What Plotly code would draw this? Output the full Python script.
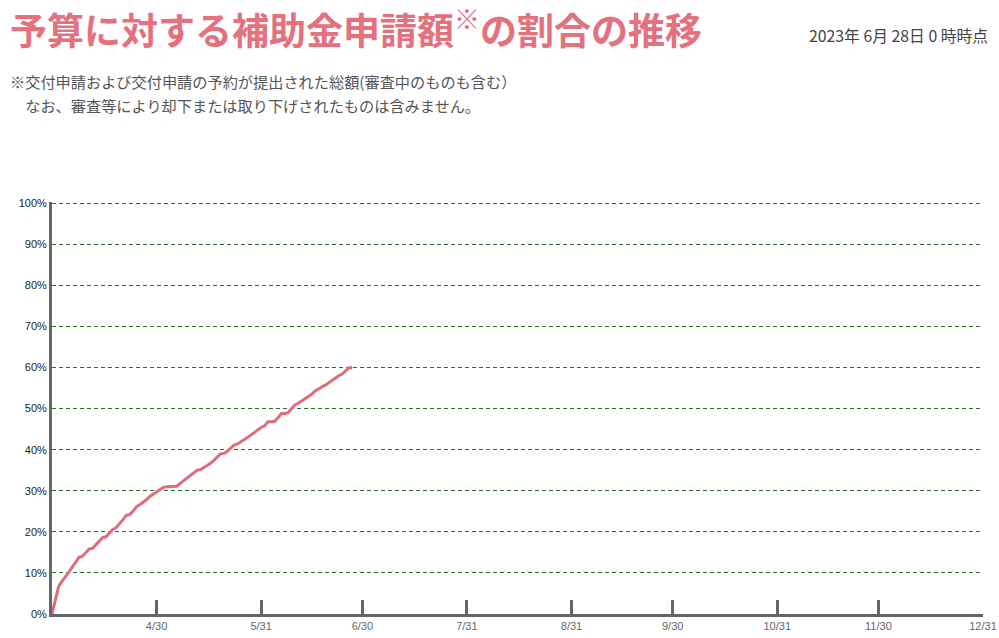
import pandas as pd
import plotly.graph_objects as go

# daily share of budget applied for (%), 3/30 .. 6/27
dates = pd.date_range("2023-03-30", "2023-06-27", freq="D")
ratio = [0, 3.4, 6.8, 8.0, 9.0, 10.2, 11.4, 12.6, 13.8, 14.0,
         14.8, 15.8, 16.0, 16.8, 17.6, 18.6, 18.8, 19.8, 20.6, 21.0,
         21.9, 22.9, 24.0, 24.2, 25.0, 26.1, 26.6, 27.1, 27.8, 28.6,
         29.2, 29.8, 30.3, 30.8, 31.0, 31.0, 31.0, 31.1, 31.8, 32.4,
         33.0, 33.6, 34.4, 35.0, 35.1, 35.6, 36.0, 36.7, 37.4, 38.3,
         39.0, 39.1, 39.6, 40.4, 41.1, 41.4, 41.9, 42.3, 43.0, 43.6,
         44.2, 45.0, 45.4, 45.8, 46.8, 46.8, 46.9, 47.8, 48.8, 48.8,
         49.0, 50.0, 50.9, 51.3, 51.8, 52.4, 52.9, 53.5, 54.3, 54.9,
         55.3, 55.7, 56.3, 56.9, 57.4, 58.0, 58.4, 59.2, 59.9, 60.0]

month_ends = ["2023-04-30", "2023-05-31", "2023-06-30", "2023-07-31", "2023-08-31",
              "2023-09-30", "2023-10-31", "2023-11-30", "2023-12-31"]
month_labels = ["4/30", "5/31", "6/30", "7/31", "8/31", "9/30", "10/31", "11/30", "12/31"]
pct_vals = list(range(0, 101, 10))
pct_labels = [str(v) + "%" for v in pct_vals]

title = "予算に対する補助金申請額<sup>※</sup>の割合の推移"
asof = "2023年 6月 28日 0 時時点"
note1 = "※交付申請および交付申請の予約が提出された総額(審査中のものも含む）"
note2 = "　なお、審査等により却下または取り下げされたものは含みません。"

W, H = 999, 638
L, R, T, B = 52, 16, 202, 24
jp = "Noto Sans CJK JP"


def px(x):
    return (x - L) / (W - L - R)


def py(y):
    return (H - B - y) / (H - T - B)


fig = go.Figure()
fig.add_trace(go.Scatter(x=dates, y=ratio, mode="lines",
                         line=dict(color="#e06d7b", width=3), hoverinfo="skip"))

fig.add_annotation(text=title, x=px(8), y=py(27), xref="paper", yref="paper",
                   xanchor="left", yanchor="middle", showarrow=False,
                   font=dict(family=jp, size=37, color="#e5707e", weight="bold"))
fig.add_annotation(text=asof, x=px(990), y=py(36), xref="paper", yref="paper",
                   xanchor="right", yanchor="middle", showarrow=False,
                   font=dict(family=jp, size=15.8, color="#444"))
fig.add_annotation(text=note1, x=px(8), y=py(81), xref="paper", yref="paper",
                   xanchor="left", yanchor="middle", showarrow=False,
                   font=dict(family=jp, size=15.2, color="#555"))
fig.add_annotation(text=note2, x=px(8), y=py(105), xref="paper", yref="paper",
                   xanchor="left", yanchor="middle", showarrow=False,
                   font=dict(family=jp, size=15.2, color="#555"))

fig.update_layout(
    width=W, height=H, margin=dict(l=L, r=R, t=T, b=B, autoexpand=False),
    paper_bgcolor="white", plot_bgcolor="white", showlegend=False,
    xaxis=dict(type="date", range=["2023-03-30", "2023-12-31"],
               tickvals=month_ends, ticktext=month_labels,
               showgrid=False, zeroline=False,
               showline=True, linecolor="#666", linewidth=3,
               ticks="inside", ticklen=14, tickwidth=3, tickcolor="#666",
               tickfont=dict(family="Liberation Sans", size=11, color="#666")),
    yaxis=dict(range=[0, 100.3], tickvals=pct_vals, ticktext=pct_labels,
               showgrid=True, gridcolor="#2b6f2b", gridwidth=1, griddash="4px,3px",
               zeroline=False, showline=True, linecolor="#666", linewidth=3,
               ticks="", tickfont=dict(family="Liberation Sans", size=11, color="#222")),
)

# page body has a default 8px margin; drop it so the figure sits at 0,0
fig.write_html("out.html", post_script="document.body.style.margin='0';",
               config={"displayModeBar": False})
